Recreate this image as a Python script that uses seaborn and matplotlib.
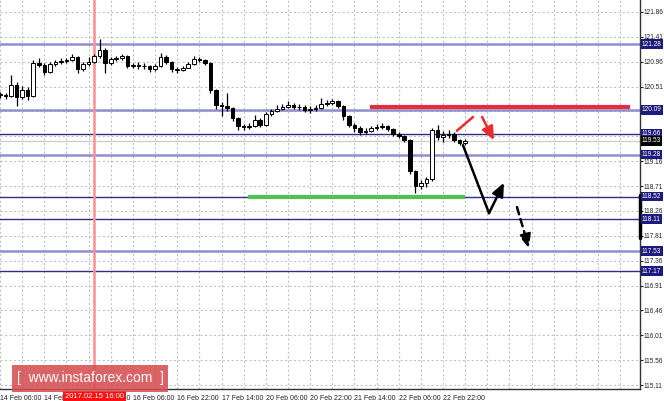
import numpy as np
import pandas as pd
import seaborn as sns
import matplotlib.pyplot as plt
from matplotlib.patches import Rectangle
import matplotlib.transforms as mtransforms

# two-hour bars, x unit = trading hours since 14 Feb 06:00
closes = [120.36, 120.34, 120.54, 120.32, 120.45, 120.34, 120.94, 120.90, 120.77, 120.92,
          120.96, 120.97, 120.99, 121.05, 120.83, 120.92, 120.96, 121.06, 121.17, 120.94,
          121.01, 121.03, 121.06, 120.88, 120.90, 120.88, 120.88, 120.83, 120.88, 121.05,
          120.96, 120.83, 120.81, 120.85, 120.92, 121.01, 120.99, 120.94, 120.45, 120.18,
          120.16, 120.12, 119.94, 119.80, 119.78, 119.80, 119.91, 119.82, 120.01, 120.07,
          120.10, 120.14, 120.18, 120.14, 120.14, 120.09, 120.10, 120.12, 120.20, 120.21,
          120.25, 120.16, 119.98, 119.82, 119.76, 119.69, 119.71, 119.76, 119.78, 119.80,
          119.74, 119.65, 119.62, 119.54, 118.98, 118.71, 118.76, 118.84, 119.72, 119.60,
          119.63, 119.65, 119.54, 119.49, 119.53]
highs = [120.42, 120.40, 120.72, 120.60, 120.52, 120.50, 121.00, 121.02, 120.93, 120.96,
         121.00, 121.02, 121.03, 121.10, 121.07, 120.96, 121.04, 121.10, 121.37, 121.20,
         121.05, 121.07, 121.10, 121.08, 120.94, 120.96, 120.93, 120.90, 120.92, 121.12,
         121.08, 120.98, 120.86, 120.89, 120.95, 121.07, 121.04, 121.01, 120.96, 120.47,
         120.24, 120.40, 120.14, 119.96, 119.84, 119.85, 120.00, 119.94, 120.05, 120.11,
         120.18, 120.20, 120.25, 120.21, 120.19, 120.17, 120.15, 120.17, 120.31, 120.27,
         120.29, 120.27, 120.18, 120.00, 119.86, 119.80, 119.76, 119.80, 119.84, 119.85,
         119.82, 119.76, 119.68, 119.64, 119.56, 119.00, 118.82, 118.88, 119.76, 119.82,
         119.70, 119.72, 119.68, 119.57, 119.56]
lows = [120.30, 120.29, 120.32, 120.16, 120.28, 120.27, 120.32, 120.86, 120.72, 120.75,
        120.89, 120.92, 120.93, 120.97, 120.76, 120.80, 120.88, 120.94, 121.02, 120.76,
        120.90, 120.97, 121.00, 120.84, 120.84, 120.83, 120.82, 120.78, 120.80, 120.86,
        120.92, 120.78, 120.76, 120.79, 120.84, 120.90, 120.95, 120.90, 120.40, 120.10,
        119.98, 120.06, 119.88, 119.72, 119.72, 119.74, 119.77, 119.78, 119.80, 119.98,
        120.05, 120.08, 120.12, 120.10, 120.09, 120.05, 120.04, 120.06, 120.10, 120.15,
        120.18, 120.12, 119.90, 119.78, 119.68, 119.63, 119.66, 119.69, 119.73, 119.74,
        119.70, 119.61, 119.58, 119.50, 118.92, 118.58, 118.66, 118.70, 118.80, 119.55,
        119.50, 119.58, 119.50, 119.45, 119.45]
first_open = 120.38

levels = [121.28, 120.09, 119.66, 119.28, 118.52, 118.11, 117.53, 117.17]
level_kind = ["light", "light", "dark", "light", "dark", "dark", "light", "dark"]
bid = 119.53

resistance = 120.14
resistance_span = [133.6, 227.5]
support = 118.52
support_span = [89.6, 167.9]

# forecast sketch (hours, price)
fc_hours = [167.2, 176.6, 182.0]
fc_prices = [119.45, 118.22, 118.77]
fc2_hours = [186.7, 191.0]
fc2_prices = [118.33, 117.59]
red_hours = [165.0, 170.8, 174.1, 178.4]
red_prices = [119.71, 119.96, 119.96, 119.54]

time_labels = ["14 Feb 06:00", "14 Feb 22:00", "15 Feb 14:00", "16 Feb 06:00", "16 Feb 22:00",
               "17 Feb 14:00", "20 Feb 06:00", "20 Feb 22:00", "21 Feb 14:00", "22 Feb 06:00",
               "22 Feb 22:00"]
cursor_hour = 34
cursor_label = "2017.02.15 16:00"

df = pd.DataFrame({"hour": np.arange(len(closes)) * 2, "close": closes,
                   "high": highs, "low": lows})
df["open"] = df["close"].shift(1).fillna(first_open)

sns.set_style("white")
plt.rcParams["font.family"] = ["Liberation Sans", "DejaVu Sans"]

fig = plt.figure(figsize=(6.64, 4.01), dpi=100)
ax = fig.add_axes([0, 12 / 401, 640 / 664, 389 / 401])

xmax = 640 / 2.769
ax.set_xlim(0, xmax)
ax.set_ylim(115.038, 122.077)

# grid
ax.set_xticks(np.arange(0, 161, 16))
ax.set_xticks(np.arange(0, xmax, 8), minor=True)
ax.set_yticks(np.round(np.arange(121.86, 115.0, -0.45), 2))
ax.grid(True, which="both", color="#c4c4c4", linestyle=(0, (2, 2)), linewidth=0.8)
ax.set_axisbelow(True)

# candles
ax.vlines(df["hour"], df["low"], df["high"], color="black", linewidth=0.9, zorder=3)
up = df[df["close"] >= df["open"]]
dn = df[df["close"] < df["open"]]
ax.bar(up["hour"], (up["close"] - up["open"]).clip(lower=0.008), bottom=up["open"],
       width=1.3, color="white", edgecolor="black", linewidth=0.7, zorder=4)
ax.bar(dn["hour"], (dn["open"] - dn["close"]), bottom=dn["close"],
       width=1.3, color="black", edgecolor="black", linewidth=0.7, zorder=4)

# level lines
for lv, kind in zip(levels, level_kind):
    if kind == "light":
        ax.axhline(lv, color="#8f8fd0", linewidth=1.8, zorder=2)
    else:
        ax.axhline(lv, color="#2e2e86", linewidth=1.0, zorder=2)
ax.axhline(bid, color="#cfcfcf", linewidth=1.0, zorder=2)

# cursor line
ax.axvline(cursor_hour, color="#ff8e8e", linewidth=1.8, zorder=2.5)

# resistance / support marks
ax.plot(resistance_span, [resistance, resistance], color="#e0303c", linewidth=3, zorder=5,
        solid_capstyle="butt")
ax.plot(support_span, [support, support], color="#52c152", linewidth=3, zorder=5,
        solid_capstyle="butt")

# forecast arrows
ax.plot(fc_hours[:2], fc_prices[:2], color="black", linewidth=1.8, zorder=6)
ax.annotate("", xy=(fc_hours[2], fc_prices[2]), xytext=(fc_hours[1], fc_prices[1]),
            arrowprops=dict(arrowstyle="-|>,head_length=0.8,head_width=0.35", color="black",
                            lw=1.8, shrinkA=0, shrinkB=0), zorder=6)
ax.annotate("", xy=(fc2_hours[1], fc2_prices[1]), xytext=(fc2_hours[0], fc2_prices[0]),
            arrowprops=dict(arrowstyle="-|>,head_length=0.8,head_width=0.35", color="black",
                            lw=1.8, linestyle=(0, (3, 2)), shrinkA=0, shrinkB=0), zorder=6)
ax.plot(red_hours[:2], red_prices[:2], color="#ee2a2a", linewidth=1.8, zorder=6)
ax.annotate("", xy=(red_hours[3], red_prices[3]), xytext=(red_hours[2], red_prices[2]),
            arrowprops=dict(arrowstyle="-|>,head_length=0.8,head_width=0.35", color="#ee2a2a",
                            lw=1.8, shrinkA=0, shrinkB=0), zorder=6)

# axes look
for side in ["left", "top"]:
    ax.spines[side].set_visible(False)
for side in ["right", "bottom"]:
    ax.spines[side].set_color("#333333")
    ax.spines[side].set_linewidth(1.0)
ax.yaxis.tick_right()
ax.tick_params(axis="y", which="major", direction="out", length=2, width=0.8, pad=0.5,
               labelsize=4.7, colors="#222222")
ax.tick_params(axis="x", which="major", direction="out", length=3, width=0.8, pad=1.5,
               labelsize=5, colors="#222222")
ax.tick_params(axis="x", which="minor", length=0)
ax.set_yticklabels([f"{v:.2f}" for v in ax.get_yticks()])
ax.set_xticklabels(time_labels)
for lab in ax.get_xticklabels():
    lab.set_horizontalalignment("left")

# right-side black marker
ax.plot([xmax, xmax], [118.55, 117.77], color="black", linewidth=2.5, clip_on=False, zorder=7)

# price boxes
trans = mtransforms.blended_transform_factory(ax.transAxes, ax.transData)
for lv in levels:
    ax.text(1.003, lv, f"{lv:.2f}", transform=trans, ha="left", va="center", fontsize=4.7,
            color="white", clip_on=False, zorder=10,
            bbox=dict(boxstyle="square,pad=0.2", facecolor="#1b1b7d", edgecolor="none"))
ax.text(1.003, bid, f"{bid:.2f}", transform=trans, ha="left", va="center", fontsize=4.7,
        color="white", clip_on=False, zorder=10,
        bbox=dict(boxstyle="square,pad=0.2", facecolor="black", edgecolor="none"))

# cursor time box
ax.text(cursor_hour, -0.018, cursor_label, transform=mtransforms.blended_transform_factory(
        ax.transData, ax.transAxes), ha="center", va="center", fontsize=5.5, color="white",
        clip_on=False, zorder=10,
        bbox=dict(boxstyle="square,pad=0.25", facecolor="#ff1010", edgecolor="none"))

# watermark
fig.patches.append(Rectangle((12 / 664, 9 / 401), 156 / 664, 27 / 401,
                             transform=fig.transFigure, facecolor="#d64e52", alpha=0.88,
                             edgecolor="none", zorder=20))
fig.text(90 / 664, 23 / 401, "[  www.instaforex.com  ]", ha="center", va="center",
         color="white", fontsize=10, zorder=21)

fig.savefig("out.png", dpi=100)
